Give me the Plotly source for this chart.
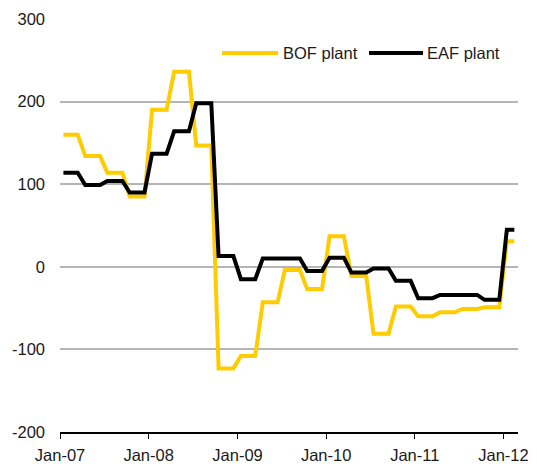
import plotly.graph_objects as go
import pandas as pd

# Monthly data, Jan-2007 .. Feb-2012
months = pd.date_range("2007-01-01", periods=62, freq="MS").strftime("%Y-%m").tolist()

bof_plant = [
    160, 160, 160, 134, 134, 134, 114, 114, 114, 85, 85, 85,
    190, 190, 190, 236, 236, 236, 147, 147, 147, -123, -123, -123,
    -108, -108, -108, -43, -43, -43, -4, -4, -4, -27, -27, -27,
    37, 37, 37, -11, -11, -11, -81, -81, -81, -48, -48, -48,
    -60, -60, -60, -55, -55, -55, -51, -51, -51, -49, -49, -49,
    31, 31,
]
eaf_plant = [
    114, 114, 114, 99, 99, 99, 104, 104, 104, 90, 90, 90,
    137, 137, 137, 164, 164, 164, 198, 198, 198, 13, 13, 13,
    -15, -15, -15, 10, 10, 10, 10, 10, 10, -5, -5, -5,
    11, 11, 11, -7, -7, -7, -2, -2, -2, -17, -17, -17,
    -38, -38, -38, -34, -34, -34, -34, -34, -34, -40, -40, -40,
    45, 45,
]

y_ticks = [-200, -100, 0, 100, 200, 300]
y_tick_labels = ["-200", "-100", "0", "100", "200", "300"]
series_names = ["BOF plant", "EAF plant"]

YELLOW = "#FFCC00"
BLACK = "#000000"
FONT = "Liberation Sans, Arial, sans-serif"
TXT = "#1a1a1a"
FS = 16.5

# plot points at mid-month
x_dates = [m + "-15" for m in months]

fig = go.Figure()
fig.add_trace(go.Scatter(x=x_dates, y=bof_plant, mode="lines", name=series_names[0],
                         line=dict(color=YELLOW, width=4), showlegend=False))
fig.add_trace(go.Scatter(x=x_dates, y=eaf_plant, mode="lines", name=series_names[1],
                         line=dict(color=BLACK, width=4), showlegend=False))

# page body has an 8px default margin
OFF = 8
W, H = 537 - OFF, 466 - OFF
L, R, T, B = 60 - OFF, 19, 19 - OFF, 34
pw, ph = W - L - R, H - T - B

def px(x):
    return (x - OFF - L) / pw

def py(y):
    return (H + OFF - B - y) / ph

# Manual legend (long line samples like the original)
legend_y = 53
for (x0, x1, tx, name, col) in [(222, 278, 281, series_names[0], YELLOW),
                                (369, 423, 425, series_names[1], BLACK)]:
    fig.add_shape(type="line", xref="paper", yref="paper",
                  x0=px(x0), x1=px(x1), y0=py(legend_y), y1=py(legend_y),
                  line=dict(color=col, width=4))
    fig.add_annotation(xref="paper", yref="paper", x=px(tx), y=py(legend_y),
                       text=name, showarrow=False, xanchor="left", yanchor="middle",
                       font=dict(family=FONT, size=FS, color=TXT))

fig.update_layout(
    width=W, height=H,
    margin=dict(l=L, r=R, t=T, b=B),
    paper_bgcolor="white", plot_bgcolor="white",
    font=dict(family=FONT, size=FS, color=TXT),
)
fig.update_xaxes(
    type="date", automargin=False,
    range=["2007-01-01", "2012-03-01"],
    tick0="2007-01-01", dtick="M12", tickformat="%b-%y",
    showgrid=False, zeroline=False,
    showline=True, linecolor="black", linewidth=1.5,
    ticks="outside", ticklen=5, tickcolor="black", tickwidth=1,
    ticklabelstandoff=2,
    tickfont=dict(family=FONT, size=FS, color=TXT),
)
fig.update_yaxes(
    automargin=False,
    range=[-200, 300],
    tickvals=y_ticks, ticktext=y_tick_labels,
    showgrid=True, gridcolor="#b5b5b5", gridwidth=1.5,
    zeroline=False, showline=False, ticks="",
    ticklabelstandoff=14,
    tickfont=dict(family=FONT, size=FS, color=TXT),
)

fig.write_html("out.html")
